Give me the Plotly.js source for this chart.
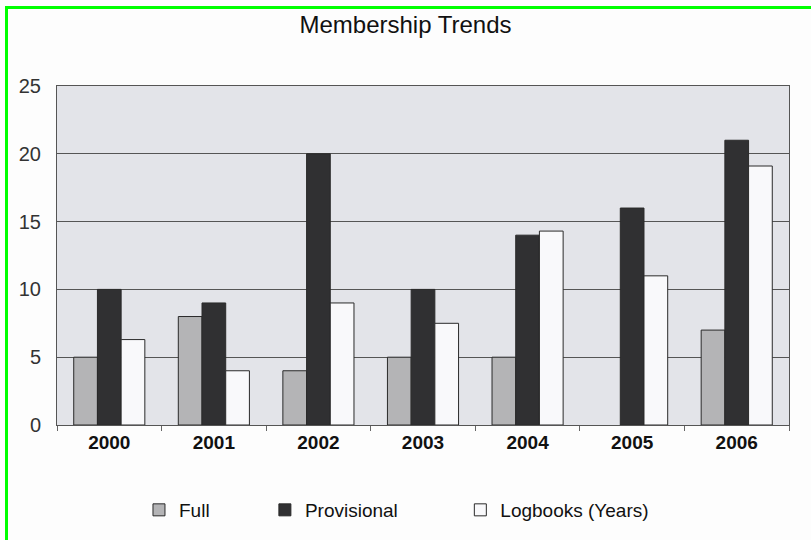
<!DOCTYPE html>
<html>
<head>
<meta charset="utf-8">
<script src="https://cdn.plot.ly/plotly-3.0.1.min.js"></script>
<style>
html,body{margin:0;padding:0;background:#fdfdfd;}
#wrap{position:relative;width:811px;height:540px;overflow:hidden;}
#chart{position:absolute;left:0;top:0;width:811px;height:540px;}
#frame{position:absolute;left:5px;top:6px;width:820px;height:560px;border-left:3px solid #00ff00;border-top:3px solid #00ff00;pointer-events:none;}
</style>
</head>
<body>
<div id="wrap"><div id="chart"></div><div id="frame"></div></div>
<script>
var years = ['2000','2001','2002','2003','2004','2005','2006'];
var fullVals = [5, 8, 4, 5, 5, null, 7];
var provisionalVals = [10, 9, 20, 10, 14, 16, 21];
var logbookVals = [6.3, 4, 9, 7.5, 14.3, 11, 19.1];
var yTicks = [0, 5, 10, 15, 20, 25];

var outline = {color: '#2a2a2a', width: 1};
var traces = [
  {type: 'bar', name: 'Full', x: years, y: fullVals, legend: 'legend',
   marker: {color: '#b4b4b6', line: outline}},
  {type: 'bar', name: 'Provisional', x: years, y: provisionalVals, legend: 'legend2',
   marker: {color: '#303032', line: outline}},
  {type: 'bar', name: 'Logbooks (Years)', x: years, y: logbookVals, legend: 'legend3',
   marker: {color: '#f9f9fb', line: outline}}
];

var legFont = {family: 'Liberation Sans, Arial, sans-serif', size: 19, color: '#111'};
function leg(xp) {
  return {x: xp, xref: 'paper', y: -0.247, yref: 'paper', xanchor: 'left', yanchor: 'middle',
          orientation: 'h', font: legFont, bgcolor: 'rgba(0,0,0,0)', itemclick: false};
}

var layout = {
  width: 811, height: 540,
  margin: {l: 57, r: 22, t: 86, b: 114},
  paper_bgcolor: '#fdfdfd',
  plot_bgcolor: '#e3e4e9',
  title: {text: 'Membership Trends', x: 0.5, xref: 'container', xanchor: 'center',
          y: 1 - 25/540, yref: 'container', yanchor: 'middle',
          font: {family: 'Liberation Sans, Arial, sans-serif', size: 24, color: '#111'}},
  barmode: 'group',
  bargap: 0.32,
  bargroupgap: 0,
  xaxis: {type: 'category', categoryorder: 'array', categoryarray: years,
          tickson: 'boundaries', ticks: 'outside', ticklen: 5, tickcolor: '#666',
          showline: true, linecolor: '#555', linewidth: 1, mirror: true,
          showgrid: false,
          tickfont: {family: 'Liberation Sans, Arial, sans-serif', size: 19, color: '#111', weight: 'bold'},
          ticklabelstandoff: 0},
  yaxis: {range: [0, 25], tickvals: yTicks, ticktext: yTicks.map(String),
          showgrid: true, gridcolor: '#555', gridwidth: 1,
          zeroline: true, zerolinecolor: '#444', zerolinewidth: 1,
          showline: true, linecolor: '#555', linewidth: 1, mirror: true,
          ticks: '', ticklabelstandoff: 11,
          tickfont: {family: 'Liberation Sans, Arial, sans-serif', size: 20, color: '#333'}},
  legend: leg(0.112),
  legend2: leg(0.284),
  legend3: leg(0.551),
  showlegend: true
};

Plotly.newPlot('chart', traces, layout, {displayModeBar: false, staticPlot: true});
</script>
</body>
</html>
